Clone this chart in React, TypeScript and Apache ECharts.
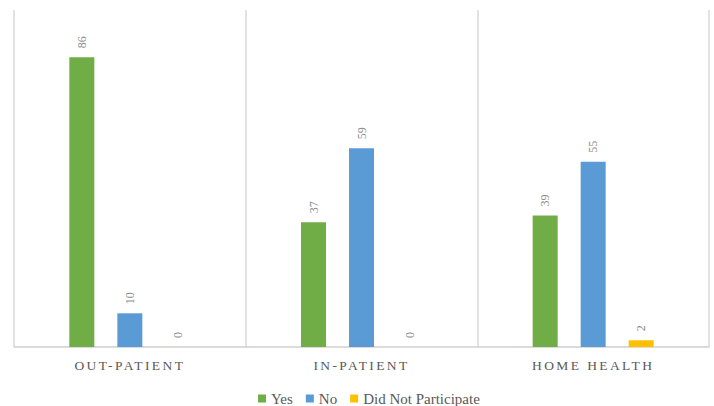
import React, { useEffect, useRef } from "react";
import * as echarts from "echarts";

const categories = ["OUT-PATIENT", "IN-PATIENT", "HOME HEALTH"];
const seriesNames = ["Yes", "No", "Did Not Participate"];
const yesValues = [86, 37, 39];
const noValues = [10, 59, 55];
const dnpValues = [0, 0, 2];
const colors = ["#70AD47", "#5B9BD5", "#FFC000"];

const SERIF = "serif";

export default function App() {
  const ref = useRef<HTMLDivElement>(null);
  useEffect(() => {
    if (!ref.current) return;
    const chart = echarts.init(ref.current, undefined, { renderer: "svg" });
    const dataSets = [yesValues, noValues, dnpValues];
    const applySpacing = () => {
      if (!ref.current) return;
      ref.current.querySelectorAll("text").forEach((t) => {
        (t as SVGTextElement).style.fontFamily = "'Liberation Serif', serif";
        if (categories.includes((t.textContent || "").trim())) {
          t.setAttribute("letter-spacing", "2.4");
        }
      });
    };
    chart.on("finished", applySpacing);
    chart.setOption({
      animation: false,
      textStyle: { fontFamily: SERIF },
      grid: { left: 14, right: 5, top: 10, bottom: 59 },
      legend: {
        data: seriesNames,
        top: 386,
        left: 253,
        itemWidth: 8,
        itemHeight: 8,
        itemGap: 13,
        icon: "rect",
        textStyle: { fontFamily: SERIF, fontSize: 15, color: "#595959" },
      },
      xAxis: {
        type: "category",
        data: categories,
        axisLine: { lineStyle: { color: "#d0d0d0", width: 1.5 } },
        axisTick: { show: false },
        splitLine: { show: true, lineStyle: { color: "#d9d9d9", width: 1.5 } },
        axisLabel: {
          fontFamily: SERIF,
          fontSize: 13.5,
          color: "#595959",
          margin: 11,
        },
      },
      yAxis: {
        type: "value",
        min: 0,
        max: 100,
        show: false,
        splitLine: { show: false },
      },
      series: seriesNames.map((name, i) => ({
        name,
        type: "bar",
        data: dataSets[i],
        barWidth: 25,
        barGap: "92%",
        itemStyle: { color: colors[i] },
        label: {
          show: true,
          position: "top",
          rotate: 90,
          align: "left",
          verticalAlign: "middle",
          distance: 9,
          fontFamily: SERIF,
          fontSize: 12,
          color: "#8c8c8c",
        },
      })),
    });
    applySpacing();
    return () => {
      chart.dispose();
    };
  }, []);
  return (
    <div
      ref={ref}
      style={{ position: "absolute", left: 0, top: 0, width: 714, height: 406 }}
    />
  );
}
